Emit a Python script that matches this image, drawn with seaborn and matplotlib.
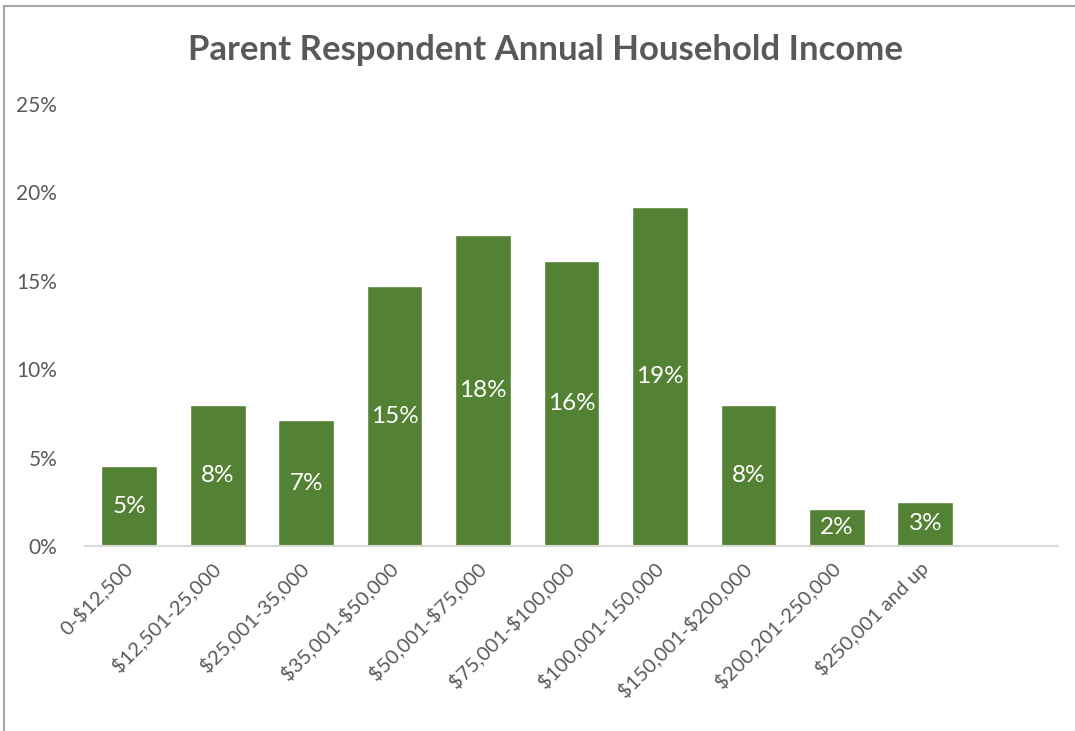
import math
import matplotlib
matplotlib.use("Agg")
import matplotlib.pyplot as plt
from matplotlib.patches import Rectangle
from matplotlib.ticker import FuncFormatter
import seaborn as sns
import pandas as pd

# Household income brackets and share of parent respondents (%)
brackets = ["0-$12,500", "$12,501-25,000", "$25,001-35,000", "$35,001-$50,000",
            "$50,001-$75,000", "$75,001-$100,000", "$100,001-150,000",
            "$150,001-$200,000", "$200,201-250,000", "$250,001 and up"]
shares = [4.5, 8.0, 7.1, 14.7, 17.6, 16.1, 19.2, 8.0, 2.1, 2.5]

df = pd.DataFrame({"bracket": brackets, "share": [s / 100 for s in shares]})

sns.set_theme(style="white")
plt.rcParams["font.family"] = ["Lato", "DejaVu Sans"]
plt.rcParams["text.parse_math"] = False

grey = "#595959"
green = "#548235"

fig = plt.figure(figsize=(10.75, 7.31), dpi=100)
ax = fig.add_axes([85 / 1075, 185 / 731, (1058 - 85) / 1075, (546 - 104) / 731])

sns.barplot(data=df, x="bracket", y="share", color=green, saturation=1,
            width=0.63, ax=ax)

ax.set_xlim(-0.5, len(brackets) + 0.5)
ax.set_ylim(0, 0.25)
ax.set_yticks([0, 0.05, 0.10, 0.15, 0.20, 0.25])
ax.yaxis.set_major_formatter(FuncFormatter(lambda v, _: f"{v * 100:.0f}%"))
ax.set_xlabel("")
ax.set_ylabel("")

for s in ["top", "right", "left"]:
    ax.spines[s].set_visible(False)
ax.spines["bottom"].set_color("#D9D9D9")
ax.spines["bottom"].set_linewidth(1.5)
ax.tick_params(axis="both", length=0, colors=grey, labelsize=14.5)
ax.tick_params(axis="y", labelsize=15, pad=20)
ax.tick_params(axis="x", pad=14)
plt.setp(ax.get_xticklabels(), rotation=45, ha="right", va="center",
         rotation_mode="anchor")

ax.bar_label(ax.containers[0],
             labels=[f"{math.floor(s + 0.5)}%" for s in shares],
             label_type="center", color="white", fontsize=17.5)

fig.text(545 / 1075, 1 - 50 / 731, "Parent Respondent Annual Household Income",
         ha="center", va="center", fontsize=25, fontweight="bold", color=grey)

# chart frame
fig.patches.append(Rectangle((4 / 1075, -0.1), 1.2, 1 - 6 / 731 + 0.1,
                             transform=fig.transFigure, fill=False,
                             edgecolor="#A6A6A6", linewidth=1.5))

fig.savefig("out.png", dpi=100, facecolor="white")
